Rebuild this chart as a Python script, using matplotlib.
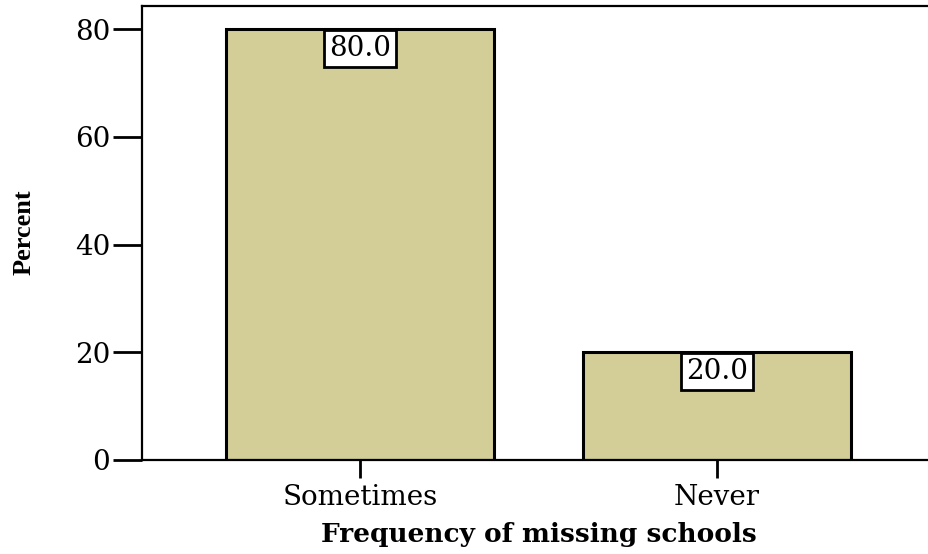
import matplotlib.pyplot as plt
import numpy as np

categories = ['Sometimes', 'Never']
percent = [80.0, 20.0]
value_labels = ['80.0', '20.0']

fig = plt.figure(figsize=(9.29, 5.54), dpi=100)
# axes extends a little past the right edge, as in the original crop
ax = fig.add_axes([142 / 929, 1 - 460 / 554, 793 / 929, 454 / 554])

x = np.arange(len(categories))
ax.bar(x, percent, width=0.75, color='#d3ce98', edgecolor='black', linewidth=2.2, zorder=2)

for xi, v, lab in zip(x, percent, value_labels):
    ax.text(xi, v - 1.0, lab, ha='center', va='top', fontsize=20, family='DejaVu Serif',
            bbox=dict(boxstyle='square,pad=0.18', facecolor='white', edgecolor='black', linewidth=2),
            zorder=3)

ax.set_xlim(-0.611, 1.611)
ax.set_ylim(0, 84.3)
ax.set_xticks(x)
ax.set_xticklabels(categories, family='DejaVu Serif', fontsize=20)
ax.set_yticks([0, 20, 40, 60, 80])
ax.set_yticklabels(['0', '20', '40', '60', '80'], family='DejaVu Serif', fontsize=20)
ax.tick_params(axis='y', length=21, width=2, pad=2)
ax.tick_params(axis='x', length=13, width=2, pad=4)

for s in ['left', 'top', 'bottom']:
    ax.spines[s].set_linewidth(1.6)
ax.spines['right'].set_visible(False)

ax.set_xlabel('Frequency of missing schools', family='DejaVu Serif', fontweight='bold', fontsize=19, labelpad=8)
fig.text(24 / 929, 1 - 232 / 554, 'Percent', rotation=90, ha='center', va='center',
         family='Liberation Serif', fontweight='bold', fontsize=19)

fig.savefig('out.png', dpi=100)
